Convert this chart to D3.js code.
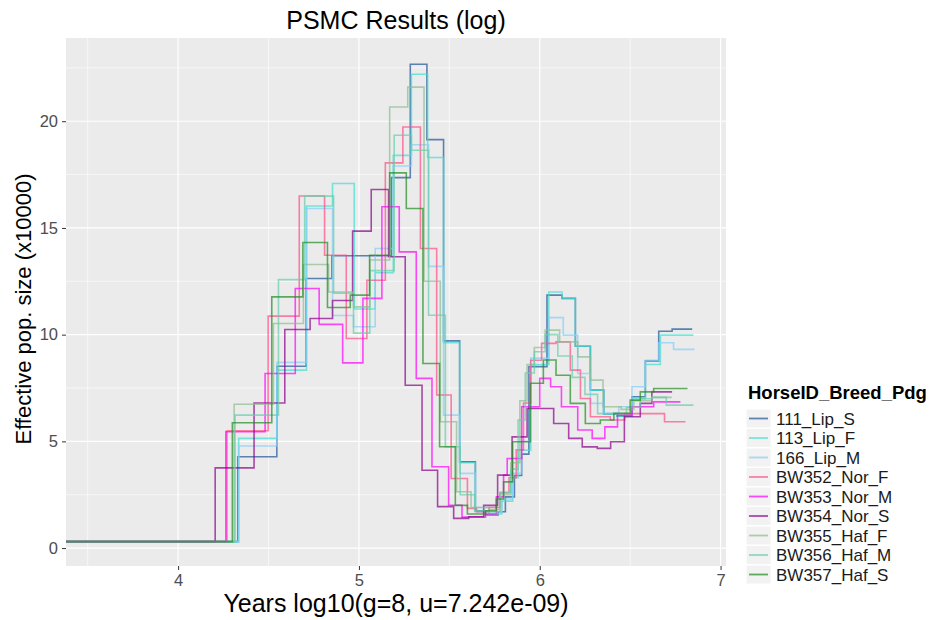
<!DOCTYPE html>
<html>
<head>
<meta charset="utf-8">
<script src="https://cdn.jsdelivr.net/npm/d3@7"></script>
<style>
  body { margin: 0; background: #fff; }
  text { font-family: "Liberation Sans", Arial, sans-serif; }
</style>
</head>
<body>
<div id="chart"></div>
<script>
// PSMC step curves, x = log10(years), y = Ne (x10000)
var s111 = [[3.3,0.3],[4.33,4.28],[4.546,8.52],[4.708,12.63],[4.85,13.7],[5.18,17.36],[5.284,22.67],[5.376,19.14],[5.468,9.71],[5.557,4.04],[5.644,1.75],[5.70,1.55],[5.77,1.7],[5.81,2.4],[5.86,3.4],[5.90,4.4],[5.94,8.5],[6.04,11.85],[6.123,11.7],[6.197,9.46],[6.28,7.4],[6.354,6.28],[6.428,6.18],[6.51,7.09],[6.584,8.77],[6.658,10.16],[6.732,10.26],[6.843,10.26]];
var s113 = [[3.3,0.3],[4.335,5.14],[4.546,8.34],[4.71,16.03],[4.854,17.08],[4.974,11.2],[5.09,12.9],[5.19,18.4],[5.29,22.2],[5.38,18.3],[5.468,9.62],[5.557,4.0],[5.644,1.7],[5.72,1.6],[5.79,2.2],[5.85,3.3],[5.88,4.59],[5.95,8.6],[6.05,12.0],[6.123,11.7],[6.197,9.46],[6.28,7.4],[6.354,6.28],[6.428,6.18],[6.51,7.0],[6.584,8.6],[6.667,9.98],[6.85,9.98]];
var s166 = [[3.3,0.3],[4.335,4.78],[4.546,8.7],[4.71,15.91],[4.854,10.9],[4.97,10.37],[5.09,14.04],[5.19,17.9],[5.29,18.9],[5.385,13.2],[5.468,6.23],[5.557,3.5],[5.644,1.9],[5.72,1.7],[5.79,2.3],[5.85,3.5],[5.90,5.0],[5.95,8.9],[6.05,10.8],[6.13,9.98],[6.21,8.18],[6.28,6.78],[6.35,6.31],[6.437,6.62],[6.51,7.56],[6.584,8.8],[6.658,9.62],[6.74,9.31],[6.856,9.31]];
var s352 = [[3.3,0.3],[4.27,5.5],[4.498,10.87],[4.67,16.5],[4.81,13.72],[4.93,9.82],[5.044,12.55],[5.146,18.05],[5.243,19.73],[5.34,14.04],[5.43,7.17],[5.51,3.26],[5.60,1.86],[5.65,1.7],[5.72,1.9],[5.78,2.6],[5.83,3.3],[5.87,4.6],[5.91,6.8],[5.95,8.8],[6.01,9.59],[6.09,9.66],[6.169,8.34],[6.225,7.01],[6.28,6.15],[6.39,6.0],[6.47,6.3],[6.69,5.92],[6.806,5.92]];
var s353 = [[3.3,0.3],[4.264,5.45],[4.481,8.18],[4.648,12.16],[4.78,10.48],[4.91,8.68],[5.022,11.7],[5.127,15.99],[5.223,13.88],[5.317,7.95],[5.404,3.81],[5.496,2.01],[5.57,1.45],[5.70,1.6],[5.76,2.4],[5.80,3.42],[5.82,4.2],[5.90,6.62],[6.0,7.95],[6.06,7.56],[6.12,6.62],[6.21,5.53],[6.29,5.14],[6.36,5.68],[6.43,6.23],[6.51,6.62],[6.63,6.85],[6.778,6.85]];
var s354 = [[3.3,0.3],[4.205,3.76],[4.42,6.8],[4.59,10.24],[4.73,10.76],[4.854,11.6],[4.965,14.85],[5.068,16.8],[5.164,13.65],[5.256,7.63],[5.349,3.65],[5.435,1.94],[5.524,1.39],[5.607,1.47],[5.69,2.0],[5.767,3.42],[5.847,5.21],[5.93,6.54],[6.077,5.84],[6.16,5.14],[6.235,4.74],[6.318,4.67],[6.392,4.98],[6.468,6.15],[6.556,6.78],[6.62,7.32],[6.732,7.32]];
var s355 = [[3.3,0.3],[4.31,6.74],[4.527,10.52],[4.693,13.29],[4.832,12.0],[4.97,11.3],[5.06,13.5],[5.17,20.67],[5.27,21.6],[5.36,12.5],[5.45,5.92],[5.54,2.64],[5.62,1.9],[5.72,1.8],[5.78,2.5],[5.84,4.0],[5.89,6.9],[5.93,8.6],[5.97,9.4],[6.03,10.21],[6.11,9.66],[6.21,8.96],[6.28,7.87],[6.35,6.62],[6.45,6.5],[6.52,6.9],[6.62,7.06],[6.73,7.06]];
var s356 = [[3.3,0.3],[4.315,6.23],[4.555,12.58],[4.70,16.49],[4.86,11.94],[4.97,10.07],[5.06,13.0],[5.195,19.34],[5.29,18.64],[5.385,10.91],[5.478,4.75],[5.56,2.5],[5.64,1.75],[5.72,1.7],[5.78,2.6],[5.84,3.7],[5.88,6.0],[5.92,8.2],[5.97,9.2],[6.03,10.0],[6.10,9.0],[6.18,8.0],[6.25,7.2],[6.32,6.3],[6.40,6.3],[6.48,6.6],[6.556,7.0],[6.62,7.06],[6.70,6.7],[6.85,6.7]];
var s357 = [[3.3,0.3],[4.30,5.87],[4.518,11.77],[4.69,14.32],[4.826,11.27],[4.952,11.85],[5.059,13.72],[5.17,17.58],[5.262,15.91],[5.354,8.65],[5.446,4.75],[5.533,2.0],[5.60,1.6],[5.70,1.75],[5.76,2.3],[5.80,3.1],[5.85,4.98],[5.948,7.72],[6.02,8.81],[6.09,8.1],[6.169,6.78],[6.252,5.84],[6.335,6.0],[6.41,6.31],[6.50,6.93],[6.556,7.32],[6.63,7.48],[6.817,7.48]];

var names = ["111_Lip_S","113_Lip_F","166_Lip_M","BW352_Nor_F","BW353_Nor_M","BW354_Nor_S","BW355_Haf_F","BW356_Haf_M","BW357_Haf_S"];
var colors = ["#1f5299","#40e0d0","#87cefa","#ff4d88","#ff00ff","#8b008b","#8fbc8f","#66cdaa","#228b22"];
var series = [s111, s113, s166, s352, s353, s354, s355, s356, s357];

var xTicks = [4, 5, 6, 7];
var xMinor = [3.5, 4.5, 5.5, 6.5];
var yTicks = [0, 5, 10, 15, 20];
var yMinor = [2.5, 7.5, 12.5, 17.5, 22.5];

var W = 933, H = 620;
var panel = {left: 66, right: 726, top: 38, bottom: 566};

var x = d3.scaleLinear().domain([3.38, 7.03]).range([panel.left, panel.right]);
var y = d3.scaleLinear().domain([-0.84, 23.9]).range([panel.bottom, panel.top]);

var svg = d3.select("#chart").append("svg")
    .attr("width", W)
    .attr("height", H);

svg.append("rect").attr("width", W).attr("height", H).attr("fill", "#fff");

svg.append("defs").append("clipPath")
    .attr("id", "clip")
    .append("rect")
    .attr("x", panel.left).attr("y", panel.top)
    .attr("width", panel.right - panel.left)
    .attr("height", panel.bottom - panel.top);

// panel background
svg.append("rect")
    .attr("x", panel.left).attr("y", panel.top)
    .attr("width", panel.right - panel.left)
    .attr("height", panel.bottom - panel.top)
    .attr("fill", "#ebebeb");

var grid = svg.append("g");
grid.selectAll(".xminor").data(xMinor).enter().append("line")
    .attr("x1", d => x(d)).attr("x2", d => x(d))
    .attr("y1", panel.top).attr("y2", panel.bottom)
    .attr("stroke", "#fff").attr("stroke-width", 0.6);
grid.selectAll(".yminor").data(yMinor).enter().append("line")
    .attr("y1", d => y(d)).attr("y2", d => y(d))
    .attr("x1", panel.left).attr("x2", panel.right)
    .attr("stroke", "#fff").attr("stroke-width", 0.6);
grid.selectAll(".xmajor").data(xTicks).enter().append("line")
    .attr("x1", d => x(d)).attr("x2", d => x(d))
    .attr("y1", panel.top).attr("y2", panel.bottom)
    .attr("stroke", "#fff").attr("stroke-width", 1.2);
grid.selectAll(".ymajor").data(yTicks).enter().append("line")
    .attr("y1", d => y(d)).attr("y2", d => y(d))
    .attr("x1", panel.left).attr("x2", panel.right)
    .attr("stroke", "#fff").attr("stroke-width", 1.2);

// step lines
var line = d3.line()
    .x(d => x(d[0]))
    .y(d => y(d[1]))
    .curve(d3.curveStepAfter);

svg.append("g").attr("clip-path", "url(#clip)")
    .selectAll("path")
    .data(series)
    .enter().append("path")
    .attr("d", line)
    .attr("fill", "none")
    .attr("stroke", (d, i) => colors[i])
    .attr("stroke-opacity", 0.7)
    .attr("stroke-width", 1.6);

// axes
var xAxis = d3.axisBottom(x).tickValues(xTicks).tickSize(4).tickPadding(4).tickFormat(d3.format("d"));
var yAxis = d3.axisLeft(y).tickValues(yTicks).tickSize(4).tickPadding(4).tickFormat(d3.format("d"));

var gx = svg.append("g").attr("transform", "translate(0," + panel.bottom + ")").call(xAxis);
var gy = svg.append("g").attr("transform", "translate(" + panel.left + ",0)").call(yAxis);
[gx, gy].forEach(function(g) {
    g.select(".domain").remove();
    g.selectAll(".tick line").attr("stroke", "#333");
    g.selectAll(".tick text")
        .attr("fill", "#4d4d4d")
        .style("font-size", "16.5px")
        .style("font-family", "Liberation Sans, Arial, sans-serif");
});

// titles
svg.append("text")
    .attr("x", (panel.left + panel.right) / 2).attr("y", 29)
    .attr("text-anchor", "middle")
    .style("font-size", "25px")
    .text("PSMC Results (log)");

svg.append("text")
    .attr("x", (panel.left + panel.right) / 2).attr("y", 612)
    .attr("text-anchor", "middle")
    .style("font-size", "25px")
    .text("Years log10(g=8, u=7.242e-09)");

svg.append("text")
    .attr("transform", "translate(31,309) rotate(-90)")
    .attr("text-anchor", "middle")
    .style("font-size", "22px")
    .text("Effective pop. size (x10000)");

// legend
var legend = svg.append("g").attr("transform", "translate(745,0)");
legend.append("text")
    .attr("x", 3).attr("y", 399)
    .style("font-size", "18.5px")
    .style("font-weight", "bold")
    .text("HorseID_Breed_Pdg");

var item = legend.selectAll(".item").data(names).enter().append("g")
    .attr("transform", (d, i) => "translate(0," + (409 + i * 19.5) + ")");
item.append("rect")
    .attr("x", 1).attr("y", 0)
    .attr("width", 25).attr("height", 19)
    .attr("fill", "#f2f2f2")
    .attr("stroke", "#fff");
item.append("line")
    .attr("x1", 4).attr("x2", 23)
    .attr("y1", 9.5).attr("y2", 9.5)
    .attr("stroke", (d, i) => colors[i])
    .attr("stroke-opacity", 0.7)
    .attr("stroke-width", 1.8);
item.append("text")
    .attr("x", 31).attr("y", 15.5)
    .style("font-size", "17px")
    .attr("fill", "#1a1a1a")
    .text(d => d);
</script>
</body>
</html>
